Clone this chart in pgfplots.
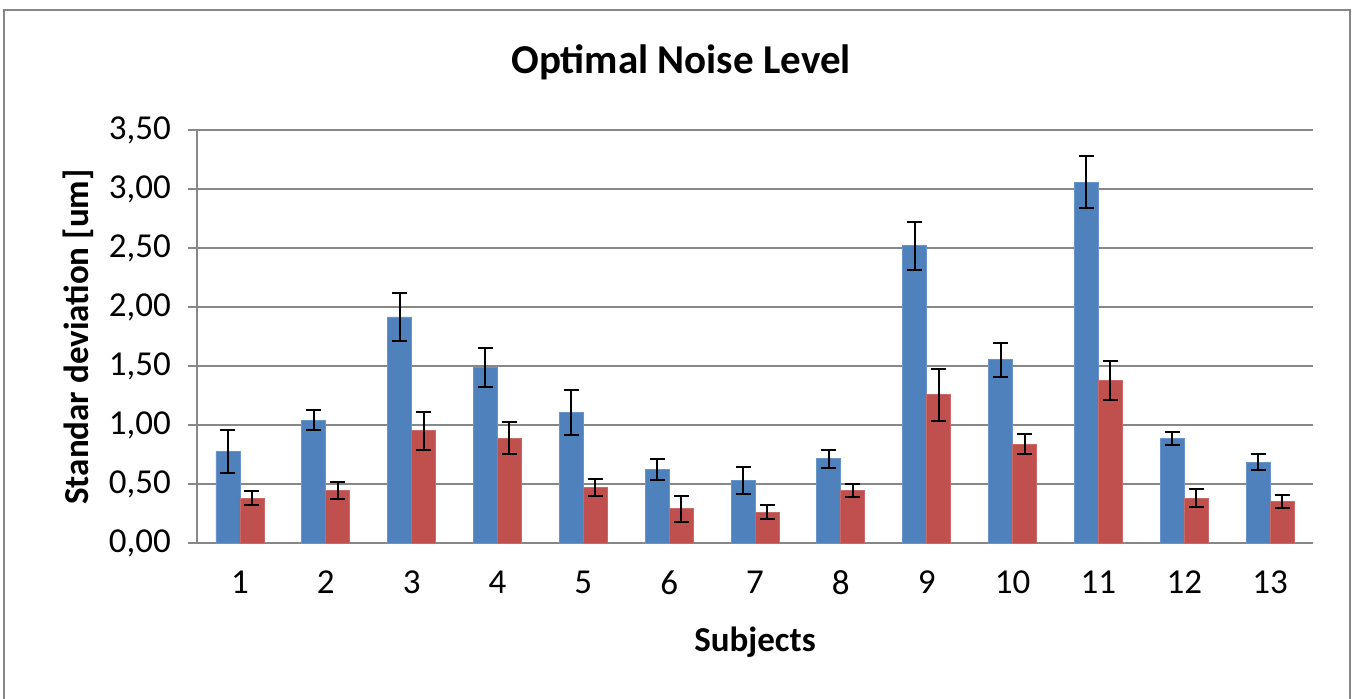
\documentclass[border=0pt]{standalone}
\usepackage{pgfplots}
\pgfplotsset{compat=1.18}
\usepackage{fontspec}
\setmainfont{Carlito}

\definecolor{xlblue}{HTML}{4F81BD}
\definecolor{xlred}{HTML}{C0504D}
\definecolor{xlgrid}{HTML}{878787}

\begin{document}
\begin{tikzpicture}
\useasboundingbox (0,0) rectangle (677pt,-349pt);
\clip (0,0) rectangle (677pt,-349pt);
\draw[xlgrid, line width=1pt] (2pt,-5pt) rectangle (675pt,-400pt);

\begin{axis}[
    at={(98.5pt,-271.5pt)}, anchor=south west,
    scale only axis,
    width=558pt, height=206.5pt,
    ybar=0pt, bar width=12pt,
    xmin=0.5, xmax=13.5, ymin=0, ymax=3.5,
    enlargelimits=false,
    axis x line=bottom, axis y line=left,
    axis line style={-, xlgrid, line width=1pt},
    xtick={1,2,3,4,5,6,7,8,9,10,11,12,13},
    xticklabels={1,2,3,4,5,6,7,8,9,10,11,12,13},
    major x tick style={draw=none},
    extra x ticks={0.5,1.5,2.5,3.5,4.5,5.5,6.5,7.5,8.5,9.5,10.5,11.5,12.5,13.5},
    extra x tick labels={},
    extra x tick style={major tick length=5pt, tick style={xlgrid, line width=1pt}},
    ytick={0,0.5,1,1.5,2,2.5,3,3.5},
    ymajorgrids,
    grid style={xlgrid, line width=1pt},
    tick align=outside,
    major y tick style={xlgrid, line width=1pt},
    major tick length=4.5pt,
    yticklabel style={
        /pgf/number format/fixed,
        /pgf/number format/fixed zerofill,
        /pgf/number format/precision=2,
        /pgf/number format/use comma,
        xshift=-5pt},
    /pgf/number format/assume math mode=true,
    ticklabel style={font=\fontsize{17.5}{20}\selectfont},
    xticklabel style={yshift=-6pt},
    error bars/y dir=both,
    error bars/y explicit,
    error bars/error bar style={black, line width=1pt},
    error bars/error mark options={rotate=90, black, mark size=3.75pt, line width=1pt},
]
\addplot[fill=xlblue, draw=xlblue!85!white] coordinates {
    (1,0.776) +- (0,0.185)
    (2,1.041) +- (0,0.087)
    (3,1.916) +- (0,0.205)
    (4,1.490) +- (0,0.164)
    (5,1.104) +- (0,0.192)
    (6,0.624) +- (0,0.090)
    (7,0.533) +- (0,0.115)
    (8,0.714) +- (0,0.076)
    (9,2.518) +- (0,0.206)
    (10,1.552) +- (0,0.145)
    (11,3.057) +- (0,0.222)
    (12,0.889) +- (0,0.055)
    (13,0.686) +- (0,0.066)
};
\addplot[fill=xlred, draw=xlred!85!white] coordinates {
    (1,0.381) +- (0,0.063)
    (2,0.443) +- (0,0.074)
    (3,0.951) +- (0,0.160)
    (4,0.889) +- (0,0.133)
    (5,0.471) +- (0,0.069)
    (6,0.291) +- (0,0.109)
    (7,0.260) +- (0,0.058)
    (8,0.443) +- (0,0.056)
    (9,1.256) +- (0,0.220)
    (10,0.838) +- (0,0.086)
    (11,1.377) +- (0,0.166)
    (12,0.381) +- (0,0.079)
    (13,0.353) +- (0,0.053)
};
\end{axis}

\node[font=\fontsize{20.5}{24}\selectfont\bfseries] at (340.5pt,-31pt) {Optimal Noise Level};
\node[font=\fontsize{17.5}{20}\selectfont\bfseries, rotate=90] at (39pt,-168.5pt) {Standar deviation [um]};
\node[font=\fontsize{17.5}{20}\selectfont\bfseries] at (377.5pt,-321pt) {Subjects};
\end{tikzpicture}
\end{document}
